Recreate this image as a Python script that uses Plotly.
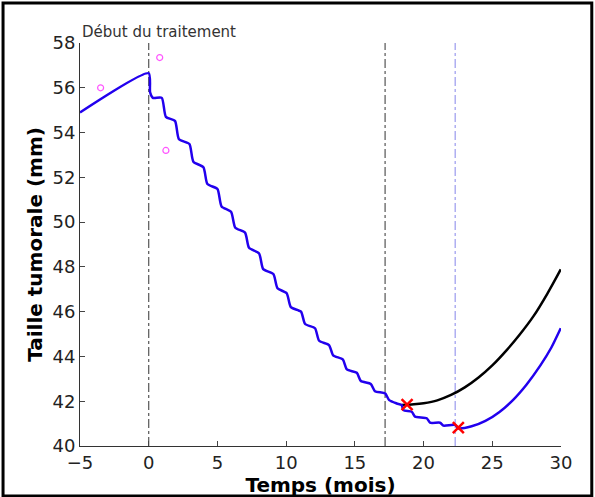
import plotly.graph_objects as go

blue_x = [-5, 0, 0.1, 0.3, 0.95, 1.25, 1.91, 2.2, 2.96, 3.25, 3.98, 4.27, 5.0, 5.3, 5.99, 6.3, 7.01, 7.3, 8.03, 8.33,
          9.07, 9.37, 10.04, 10.34, 11.08, 11.38, 12.1, 12.4, 13.12, 13.42, 14.12, 14.42, 15.14, 15.44, 16.16, 16.46,
          17.2, 17.5, 18.05, 18.41, 18.53, 19.14, 19.38, 20.23, 20.47, 21.2, 21.44, 22.29, 22.53,
          23.5, 24.5, 25.5, 26.5, 27.5, 28.5, 29.3, 29.98]
blue_y = [54.9, 56.65, 55.8, 55.55, 55.55, 54.7, 54.52, 53.7, 53.49, 52.7, 52.45, 51.7, 51.48, 50.7, 50.46, 49.75,
          49.53, 48.85, 48.6, 47.9, 47.68, 47.05, 46.82, 46.2, 46.0, 45.45, 45.26, 44.7, 44.51, 44.05, 43.87, 43.42,
          43.27, 42.9, 42.77, 42.45, 42.35, 42.05, 41.9, 41.83, 41.6, 41.53, 41.31, 41.24, 41.04, 41.04, 40.91, 40.94,
          40.79, 40.88, 41.12, 41.51, 42.05, 42.75, 43.6, 44.4, 45.26]
black_x = [18.41, 18.77, 19.3, 20.0, 21.0, 22.0, 23.0, 24.0, 25.0, 26.0, 27.0, 28.0, 29.0, 29.98]
black_y = [41.83, 41.84, 41.86, 41.91, 42.04, 42.28, 42.62, 43.06, 43.6, 44.25, 44.98, 45.8, 46.8, 47.89]
obs_x = [-3.5, 0.8, 1.25]
obs_y = [56.0, 57.35, 53.2]
nadir_x = [18.8, 22.53]
nadir_y = [41.85, 40.82]
vlines = [(0, "#555555"), (17.2, "#555555"), (22.3, "#9a9aee")]

fig = go.Figure()
for vx, c in vlines:
    fig.add_trace(go.Scatter(x=[vx, vx], y=[40, 58], mode="lines",
                             line=dict(color=c, width=1.2, dash="dashdot"), showlegend=False))
fig.add_trace(go.Scatter(x=black_x, y=black_y, mode="lines", line=dict(color="black", width=2.5, shape="spline"),
                         showlegend=False))
fig.add_trace(go.Scatter(x=blue_x, y=blue_y, mode="lines",
                         line=dict(color="#2200ee", width=2.5, shape="spline", smoothing=0.6), showlegend=False))
fig.add_trace(go.Scatter(x=obs_x, y=obs_y, mode="markers",
                         marker=dict(symbol="circle-open", color="#ff55ff", size=6, line=dict(width=1.2)),
                         showlegend=False))
fig.add_trace(go.Scatter(x=nadir_x, y=nadir_y, mode="markers",
                         marker=dict(symbol="x-thin", color="red", size=11, line=dict(width=2.5, color="red")),
                         showlegend=False))

fig.update_layout(
    width=595, height=497, paper_bgcolor="white", plot_bgcolor="white",
    margin=dict(l=80, r=34, t=43, b=51, autoexpand=False),
    font=dict(family="DejaVu Sans", size=18, color="#222222"),
    xaxis=dict(range=[-5, 30], tickvals=[-5, 0, 5, 10, 15, 20, 25, 30], ticks="inside", ticklen=5,
               showline=True, linecolor="#333333", showgrid=False, zeroline=False, automargin=False,
               title=dict(text="<b>Temps (mois)</b>", font=dict(size=20, color="black"), standoff=2)),
    yaxis=dict(range=[40, 58], dtick=2, ticks="inside", ticklen=5,
               showline=True, linecolor="#333333", showgrid=False, zeroline=False, automargin=False,
               title=dict(text="<b>Taille tumorale (mm)</b>", font=dict(size=20, color="black"), standoff=4)),
    annotations=[dict(text="Début du traitement", x=0.0, y=1.0, xref="paper", yref="paper",
                      xanchor="left", yanchor="bottom", showarrow=False, font=dict(size=15, color="#333333"))],
    shapes=[dict(type="rect", xref="paper", yref="paper", x0=-0.16, x1=1.064, y0=-0.124, y1=1.099,
                 line=dict(color="black", width=3))],
)
fig.write_html("out.html", config={"displayModeBar": False},
               post_script="document.body.style.margin='0';document.body.style.overflow='hidden';")
